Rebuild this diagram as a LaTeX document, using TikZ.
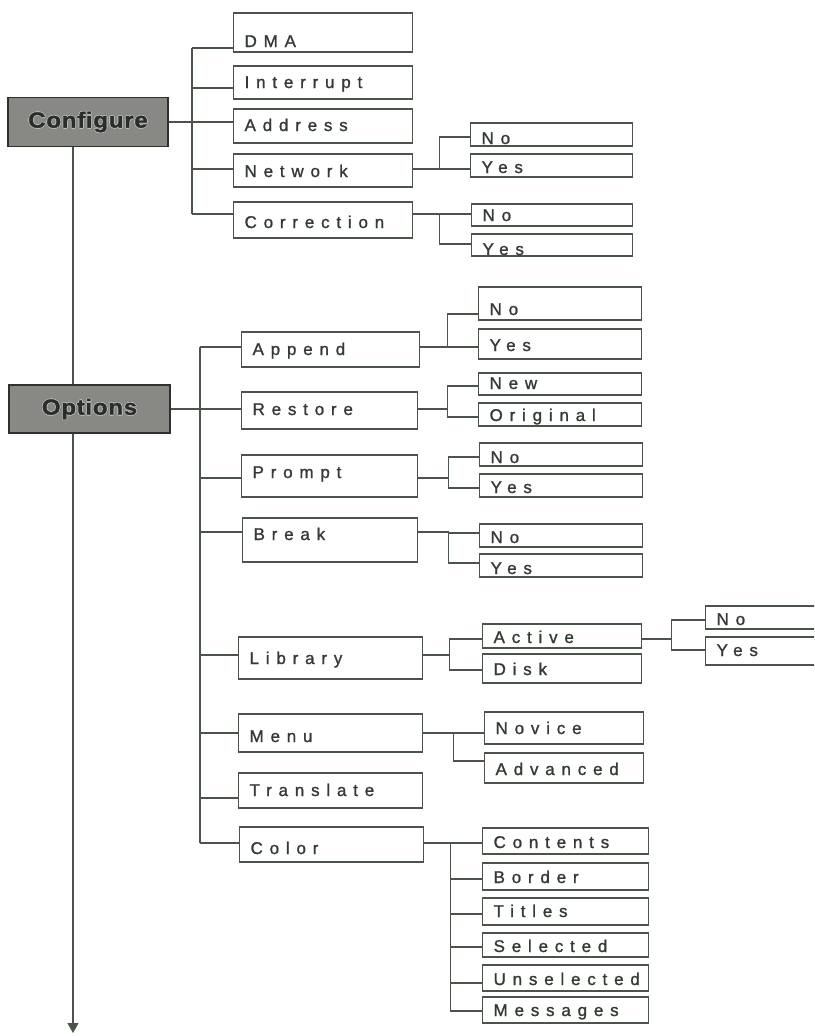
\documentclass[tikz,border=0pt]{standalone}
\usepackage{fontspec}
\setmainfont{Liberation Sans}
\newfontfamily\boxfont[LetterSpace=40, FakeBold=1.2]{Liberation Sans}
\newfontfamily\rootfont[LetterSpace=3, FakeStretch=1.1, FakeBold=1.5]{Liberation Sans Bold}
\usetikzlibrary{positioning,arrows.meta}
\definecolor{inkline}{RGB}{74,84,74}
\definecolor{inktext}{RGB}{52,58,52}
\definecolor{rootfill}{RGB}{136,136,132}
% light rim round the dark root labels
\newcommand\glow[1]{{\color{white!55!rootfill}\rlap{\hspace{-0.7pt}#1}\rlap{\hspace{0.7pt}#1}%
  \rlap{\raisebox{0.7pt}{#1}}\rlap{\raisebox{-0.7pt}{#1}}}#1}

\begin{document}
\begin{tikzpicture}[x=1pt, y=-1pt,
	link/.style={draw=inkline, line width=1.1pt},
	root/.style={draw=inkline!60!black, fill=rootfill, line width=1.2pt, inner sep=0pt,
	  text=inktext!80!black, font=\rootfont\fontsize{22}{22}\selectfont},
	box/.style n args={6}{draw=inkline, line width=1.2pt, fill=white, text=inktext,
	  font=\boxfont\fontsize{17}{17}\selectfont, inner xsep=11pt, inner ysep=0pt,
	  anchor=base west, at={(#1,#5)}, text width={(#3-#1-22)*1pt}, align=left,
	  text height={(#5-#2)*1pt}, text depth={(#4-#5)*1pt},
	  execute at begin node={\pgfmathsetlengthmacro\boxdrop{(#6-#5)*1pt}\leavevmode\lower\boxdrop\hbox\bgroup},
	  execute at end node={\egroup}}
	]
  \useasboundingbox (0,0) rectangle (814,1036);
  \clip (0,0) rectangle (814,1036);

  \node[root, minimum width=160pt, minimum height=49pt] (cfg) at (88,122) {\glow{Configure}};
  \node[root, minimum width=161pt, minimum height=48pt] (opt) at (89.5,409) {\glow{Options}};
  \coordinate (ctrunk) at (192,48);
  \coordinate (otrunk) at (200,347);
  \coordinate (spine) at (73,1033);

  % Configure branch
  \node[box={233}{13}{412}{52}{48}{47}] (dma) {DMA};
  \node[box={233}{66}{412}{99}{88}{88}] (intr) {Interrupt};
  \node[box={233}{109}{412}{143}{122}{131}] (addr) {Address};
  \node[box={233}{154}{412}{187}{169}{177}] (netw) {Network};
  \node[box={233}{202}{412}{238}{214}{228}] (corr) {Correction};
  \node[box={470}{123}{632}{146}{137}{144}] (nwno) {No};
  \node[box={470}{154}{632}{177}{169}{173}] (nwyes) {Yes};
  \node[box={471}{204}{632}{226}{214}{221}] (crno) {No};
  \node[box={471}{234}{632}{256}{244}{255}] (cryes) {Yes};

  % Options branch
  \node[box={241}{332}{419}{367}{347}{355}] (app) {Append};
  \node[box={478}{287}{641}{320}{314}{315}] (apno) {No};
  \node[box={478}{329}{641}{359}{347}{351}] (apyes) {Yes};
  \node[box={241}{392}{417}{429}{409}{415}] (rest) {Restore};
  \node[box={478}{373}{641}{395}{386}{389}] (rsnew) {New};
  \node[box={478}{403}{641}{426}{417}{421}] (rsorig) {Original};
  \node[box={241}{455}{417}{497}{478}{478}] (prm) {Prompt};
  \node[box={479}{443}{642}{466}{457}{463}] (prno) {No};
  \node[box={479}{474}{642}{497}{488}{493}] (pryes) {Yes};
  \node[box={242}{518}{417}{562}{532}{540}] (brk) {Break};
  \node[box={479}{524}{642}{547}{533}{543}] (brno) {No};
  \node[box={479}{554}{642}{577}{563}{574}] (bryes) {Yes};
  \node[box={238}{637}{422}{679}{655}{664}] (lib) {Library};
  \node[box={482}{624}{641}{648}{639}{643}] (act) {Active};
  \node[box={482}{654}{641}{683}{670}{675}] (dsk) {Disk};
  \node[box={705}{606}{840}{629}{620}{625}] (acno) {No};
  \node[box={705}{637}{840}{665}{650}{656}] (acyes) {Yes};
  \node[box={238}{714}{422}{752}{733}{742}] (menu) {Menu};
  \node[box={484}{712}{643}{744}{733}{734}] (nov) {Novice};
  \node[box={484}{753}{643}{783}{761}{775}] (adv) {Advanced};
  \node[box={238}{773}{422}{808}{798}{796}] (trans) {Translate};
  \node[box={239}{827}{423}{862}{843}{854}] (col) {Color};
  \node[box={482}{828}{648}{854}{843}{848}] (cont) {Contents};
  \node[box={482}{863}{648}{890}{879}{883}] (bord) {Border};
  \node[box={482}{898}{648}{925}{914}{917}] (titl) {Titles};
  \node[box={482}{933}{648}{957}{947}{952}] (sel) {Selected};
  \node[box={482}{965}{648}{991}{983}{985}] (unsel) {Unselected};
  \node[box={482}{997}{648}{1023}{1011}{1016}] (msg) {Messages};

  % main spine
  \draw[link] (cfg.south -| spine) -- (opt.north -| spine);
  \draw[link, -{Triangle[width=11pt,length=10pt]}] (opt.south -| spine) -- (spine);

  % connectors
  \draw[link] (cfg.east) -- (addr.base west);
  \foreach \n in {dma,intr,addr,netw,corr}
    \draw[link] (\n.base west) -- (\n.base west -| ctrunk);
  \draw[link] (dma.base west -| ctrunk) -- (corr.base west -| ctrunk);
  \foreach \n in {nwno,nwyes} \draw[link] (netw.base east) -- ++(26,0) |- (\n.base west);
  \foreach \n in {crno,cryes} \draw[link] (corr.base east) -- ++(26,0) |- (\n.base west);

  \draw[link] (opt.east) -- (rest.base west);
  \foreach \n in {app,rest,prm,brk,lib,menu,trans,col}
    \draw[link] (\n.base west) -- (\n.base west -| otrunk);
  \draw[link] (app.base west -| otrunk) -- (col.base west -| otrunk);
  \foreach \n in {apno,apyes} \draw[link] (app.base east) -- ++(27,0) |- (\n.base west);
  \foreach \n in {rsnew,rsorig} \draw[link] (rest.base east) -- ++(29,0) |- (\n.base west);
  \foreach \n in {prno,pryes} \draw[link] (prm.base east) -- ++(30,0) |- (\n.base west);
  \foreach \n in {brno,bryes} \draw[link] (brk.base east) -- ++(30,0) |- (\n.base west);
  \foreach \n in {act,dsk} \draw[link] (lib.base east) -- ++(26,0) |- (\n.base west);
  \foreach \n in {acno,acyes} \draw[link] (act.base east) -- ++(29,0) |- (\n.base west);
  \foreach \n in {nov,adv} \draw[link] (menu.base east) -- ++(30,0) |- (\n.base west);
  \foreach \n in {cont,bord,titl,sel,unsel,msg}
    \draw[link] (col.base east) -- ++(26,0) |- (\n.base west);
\end{tikzpicture}
\end{document}
